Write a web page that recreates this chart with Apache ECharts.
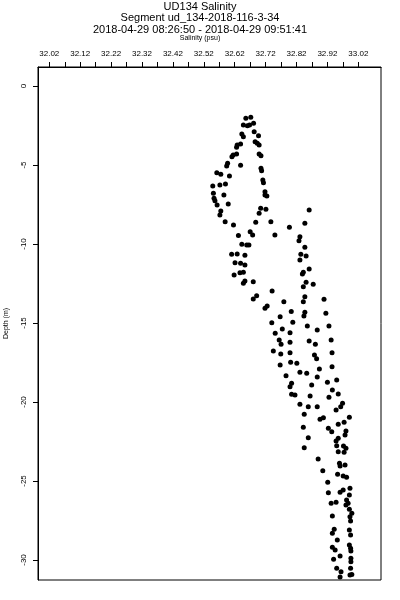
<!DOCTYPE html>
<html>
<head>
<meta charset="utf-8">
<script src="https://cdn.jsdelivr.net/npm/echarts@6/dist/echarts.min.js"></script>
<style>html,body{margin:0;padding:0;background:#fff}#c{width:400px;height:600px}</style>
</head>
<body>
<div id="c"></div>
<script>
const titleLines = ["UD134 Salinity", "Segment ud_134-2018-116-3-34", "2018-04-29 08:26:50 - 2018-04-29 09:51:41"];
const xName = "Salinity (psu)";
const yName = "Depth (m)";
const xTickValues = [32.02,32.07,32.12,32.17,32.22,32.27,32.32,32.37,32.42,32.47,32.52,32.57,32.62,32.67,32.72,32.77,32.82,32.87,32.92,32.97,33.02];
const xLabelValues = [32.02,32.12,32.22,32.32,32.42,32.52,32.62,32.72,32.82,32.92,33.02];
const yTickValues = [0,-5,-10,-15,-20,-25,-30];

const salinity = [32.656,32.672,32.648,32.661,32.668,32.681,32.643,32.648,32.683,32.697,
32.628,32.639,32.626,32.686,32.693,32.699,32.615,32.626,32.611,32.699,
32.705,32.597,32.594,32.639,32.705,32.707,32.562,32.575,32.603,32.711,
32.713,32.549,32.572,32.590,32.718,32.724,32.551,32.585,32.553,32.718,
32.556,32.563,32.599,32.575,32.572,32.704,32.721,32.699,32.861,32.589,
32.616,32.688,32.737,32.797,32.847,32.670,32.678,32.632,32.750,32.831,
32.828,32.643,32.659,32.666,32.847,32.610,32.628,32.653,32.834,32.851,
32.831,32.621,32.639,32.653,32.618,32.637,32.648,32.842,32.861,32.839,
32.851,32.874,32.653,32.680,32.648,32.842,
32.691,32.680,32.741,32.847,32.842,32.909,32.779,32.718,32.725,32.803,
32.847,32.844,32.915,32.767,32.740,32.808,32.855,32.887,32.925,32.751,
32.774,32.799,32.764,32.770,32.799,32.861,32.881,32.932,32.745,32.769,
32.799,32.878,32.885,32.935,32.767,32.801,32.821,32.894,32.935,
32.786,32.831,32.853,32.887,32.920,32.950,32.804,32.799,32.869,32.936,
32.955,32.925,32.804,32.815,32.864,32.969,32.963,32.948,32.831,32.858,
32.887,32.845,32.907,32.896,32.991,32.974,32.955,32.842,32.923,32.934,
32.980,32.977,32.858,32.955,32.948,32.845,32.950,32.972,32.980,32.955,
32.974,
32.890,32.959,32.977,32.961,32.905,32.953,32.971,32.982,32.921,32.993,
32.971,32.961,32.923,32.991,32.982,32.987,32.980,32.932,32.948,32.991,
32.999,32.936,
32.993,32.995,32.942,32.936,32.991,32.995,32.952,32.936,32.945,32.991,
32.995,32.996,32.961,32.940,32.996,32.996,32.950,32.964,32.995,32.999,
32.993,32.961];

const depth = [-2.04,-1.98,-2.47,-2.51,-2.47,-2.36,-3.04,-3.21,-2.89,-3.15,
-3.73,-3.67,-3.88,-3.53,-3.63,-3.73,-4.37,-4.30,-4.47,-4.30,
-4.41,-4.89,-5.06,-5.02,-5.21,-5.36,-5.49,-5.59,-5.70,-5.95,
-6.12,-6.33,-6.27,-6.20,-6.69,-6.96,-6.79,-6.90,-7.11,-6.90,
-7.26,-7.53,-7.47,-7.91,-8.16,-7.74,-7.80,-8.06,-7.85,-8.59,
-8.80,-8.63,-8.59,-8.94,-8.69,-9.22,-9.43,-9.47,-9.43,-9.54,
-9.79,-10.02,-10.06,-10.06,-10.21,-10.65,-10.63,-10.72,-10.65,-10.76,
-11.01,-11.18,-11.22,-11.33,-11.96,-11.82,-11.79,-11.79,-11.58,-11.90,
-12.42,-12.55,-12.34,-12.39,-12.49,-12.70,
-13.27,-13.48,-12.97,-13.34,-13.65,-13.50,-13.65,-14.07,-13.92,-14.28,
-14.32,-14.56,-14.39,-14.60,-14.98,-14.96,-15.19,-15.44,-15.19,-15.65,
-15.38,-15.61,-16.08,-16.35,-16.22,-16.14,-16.35,-16.08,-16.77,-16.96,
-16.88,-17.03,-17.26,-16.88,-17.66,-17.49,-17.55,-17.91,-17.77,
-18.34,-18.12,-18.18,-18.42,-18.75,-18.61,-18.82,-19.03,-18.92,-19.24,
-19.49,-19.70,-19.51,-19.56,-19.62,-20.08,-20.30,-20.51,-20.15,-20.30,
-20.30,-20.78,-20.99,-21.09,-20.97,-21.28,-21.41,-21.60,-21.66,-21.88,
-21.84,-22.09,-22.26,-22.30,-22.47,-22.89,-22.77,-22.78,-22.93,-23.15,
-23.18,
-23.61,-23.88,-23.99,-24.05,-24.35,-24.58,-24.68,-24.77,-25.08,-25.46,
-25.57,-25.72,-25.74,-25.89,-26.20,-26.41,-26.52,-26.41,-26.35,-26.79,
-27.04,-27.22,
-27.26,-27.53,-28.06,-28.31,-28.10,-28.42,-28.73,-29.20,-29.37,-29.05,
-29.26,-29.43,-29.75,-29.96,-29.89,-30.11,-30.53,-30.74,-30.53,-30.91,
-30.95,-31.08];

const points = salinity.map((s, i) => [s, depth[i]]);
const FONT = "Liberation Sans";

const chart = echarts.init(document.getElementById('c'), null, {renderer: 'canvas'});
chart.setOption({
  animation: false,
  backgroundColor: '#fff',
  title: [
    {text: titleLines[0], left: 'center', top: 0, padding: 0, textStyle: {fontFamily: FONT, fontSize: 11, fontWeight: 'normal', color: '#000', lineHeight: 13}},
    {text: titleLines[1], left: 'center', top: 11, padding: 0, textStyle: {fontFamily: FONT, fontSize: 11, fontWeight: 'normal', color: '#000', lineHeight: 13}},
    {text: titleLines[2], left: 'center', top: 23, padding: 0, textStyle: {fontFamily: FONT, fontSize: 11, fontWeight: 'normal', color: '#000', lineHeight: 13}},
    {text: xName, left: 'center', top: 34, padding: 0, textStyle: {fontFamily: FONT, fontSize: 7, fontWeight: 'normal', color: '#000', lineHeight: 8}}
  ],
  grid: {left: 38, right: 19, top: 67, bottom: 20, show: true, borderColor: '#000', borderWidth: 1, backgroundColor: 'transparent', containLabel: false, outerBoundsMode: 'none'},
  xAxis: {
    type: 'value', position: 'top', min: 31.9834, max: 33.0934,
    axisLine: {show: true, onZero: false, lineStyle: {color: '#000', width: 1}},
    axisTick: {show: true, inside: false, length: 5, customValues: xTickValues, lineStyle: {color: '#000', width: 1}},
    axisLabel: {show: true, customValues: xLabelValues, formatter: v => v.toFixed(2), fontFamily: FONT, fontSize: 8, color: '#000', margin: 9},
    splitLine: {show: false}
  },
  yAxis: {
    type: 'value', min: -31.266, max: 1.2025,
    name: yName, nameLocation: 'middle', nameRotate: 90, nameGap: 28,
    nameTextStyle: {fontFamily: FONT, fontSize: 7, color: '#000'},
    axisLine: {show: true, onZero: false, lineStyle: {color: '#000', width: 1}},
    axisTick: {show: true, inside: false, length: 5, customValues: yTickValues, lineStyle: {color: '#000', width: 1}},
    axisLabel: {show: true, customValues: yTickValues, rotate: 90, fontFamily: FONT, fontSize: 8, color: '#000', margin: 10},
    splitLine: {show: false}
  },
  series: [{
    type: 'scatter', data: points, symbol: 'circle', symbolSize: 5,
    itemStyle: {color: '#000', opacity: 1}
  }]
});
</script>
</body>
</html>
